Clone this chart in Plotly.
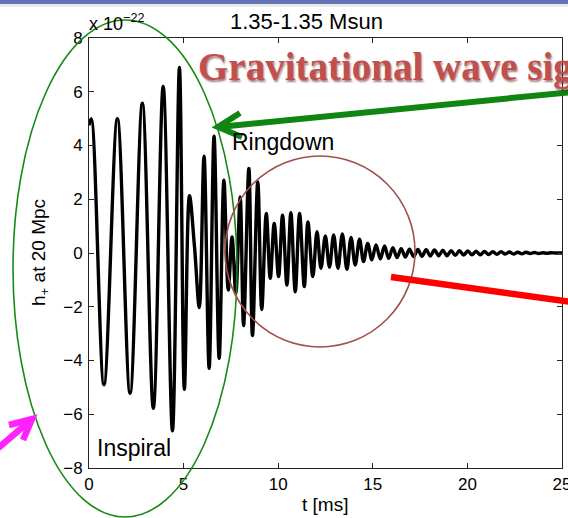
import plotly.graph_objects as go

# ---------------- data ----------------
t_ms = [0.00, 0.12, 0.79, 1.50, 2.17, 2.82, 3.40, 3.92, 4.41, 4.78, 5.04, 5.31, 5.58, 5.83,
        6.08, 6.35, 6.61, 6.88, 7.13, 7.36, 7.56, 7.76, 7.99, 8.17, 8.45, 8.64, 8.92, 9.13,
        9.37, 9.58, 9.79, 10.02, 10.23, 10.46, 10.67, 10.90, 11.13, 11.38, 11.57, 11.83,
        12.05, 12.26, 12.49, 12.71, 12.93, 13.16, 13.39, 13.63, 13.85, 14.07, 14.30, 14.51,
        14.73, 14.95, 15.17, 15.40, 15.62, 15.84, 16.06, 16.28, 16.50, 16.72, 16.94, 17.16,
        17.38, 17.60, 17.82, 18.04, 18.26, 18.48, 18.70, 18.92, 19.14, 19.36, 19.58, 19.80,
        20.02, 20.24, 20.46, 20.68, 20.90, 21.12, 21.34, 21.56, 21.78, 22.00, 22.22, 22.44,
        22.66, 22.88, 23.10, 23.32, 23.54, 23.76, 23.98, 24.20, 24.42, 24.64, 24.86, 25.00]

h_plus = [4.75, 5.00, -4.90, 5.00, -5.22, 5.57, -5.78, 6.20, -6.62, 6.90, -5.07, 2.13, 0.20, -2.03,
          3.60, -4.29, 4.35, -3.92, 2.71, -1.38, 0.60, -1.50, 2.09, -2.70, 3.15, -3.07, 2.65, -2.10,
          1.47, -0.94, 1.10, -0.88, 1.41, -1.19, 1.50, -1.44, 1.47, -1.25, 1.16, -0.88,
          0.79, -0.57, 0.63, -0.53, 0.67, -0.57, 0.71, -0.61, 0.58, -0.45, 0.51, -0.32,
          0.36, -0.25, 0.30, -0.22, 0.26, -0.20, 0.20, -0.17, 0.16, -0.15, 0.14, -0.13,
          0.13, -0.12, 0.12, -0.11, 0.11, -0.10, 0.10, -0.10, 0.09, -0.09, 0.09, -0.08,
          0.08, -0.07, 0.07, -0.07, 0.06, -0.06, 0.05, -0.05, 0.05, -0.04, 0.04, -0.04,
          0.03, -0.03, 0.03, -0.02, 0.02, -0.02, 0.01, -0.01, 0.01, 0.00, 0.00, 0.00]

x_ticks = [0, 5, 10, 15, 20, 25]
y_ticks = [-8, -6, -4, -2, 0, 2, 4, 6, 8]

title_text = "1.35-1.35 Msun"
x_label = "t [ms]"
y_label = "h<sub>+</sub> at 20 Mpc"
exp_label = "x 10<sup>\u221222</sup>"
banner_text = "Gravitational wave sig"
ringdown_text = "Ringdown"
inspiral_text = "Inspiral"

# ---------------- layout geometry (pixels) ----------------
W, H = 568, 518
L, R, T, B = 89, 562, 38, 468


def px(x):
    return (x - L) / (R - L)


def py(y):
    return (B - y) / (B - T)


FONT = "Liberation Sans, Arial, Helvetica, sans-serif"

fig = go.Figure()
fig.add_trace(go.Scatter(x=t_ms, y=h_plus, mode="lines",
                         line=dict(color="black", width=3.4, shape="spline", smoothing=1.0),
                         hoverinfo="skip", showlegend=False))

axis_common = dict(showline=True, linecolor="#262626", linewidth=1, mirror="ticks",
                   ticks="inside", ticklen=5, tickcolor="#262626", showgrid=False,
                   zeroline=False, ticklabeloverflow="allow", automargin=False,
                   tickfont=dict(family=FONT, size=17, color="black"))

fig.update_xaxes(range=[0, 25], tickvals=x_ticks, ticktext=[str(v) for v in x_ticks],
                 ticklabelstandoff=1, **axis_common)
fig.update_yaxes(range=[-8, 8], tickvals=y_ticks,
                 ticktext=[str(v).replace("-", "\u2212") for v in y_ticks],
                 ticklabelstandoff=2, **axis_common)

shapes = []
# slide top band
shapes.append(dict(type="rect", xref="paper", yref="paper", x0=px(0), x1=px(W), y0=py(4), y1=py(0),
                   fillcolor="#6474b4", line=dict(width=0), layer="above"))
shapes.append(dict(type="rect", xref="paper", yref="paper", x0=px(0), x1=px(W), y0=py(7), y1=py(4),
                   fillcolor="#e9e9ee", line=dict(width=0), layer="above"))
# green ellipse (inspiral)
shapes.append(dict(type="circle", xref="paper", yref="paper", x0=px(13), x1=px(237), y0=py(517), y1=py(20),
                   line=dict(color="#168a16", width=1.6), layer="above"))
# brown circle (ringdown)
shapes.append(dict(type="circle", xref="paper", yref="paper", x0=px(225), x1=px(415), y0=py(347), y1=py(156),
                   line=dict(color="#a0504d", width=1.6), layer="above"))
# green arrow
shapes.append(dict(type="line", xref="paper", yref="paper", x0=px(219), y0=py(127), x1=px(572), y1=py(92),
                   line=dict(color="#118511", width=6), layer="above"))
shapes.append(dict(type="path", xref="paper", yref="paper",
                   path=f"M {px(240)},{py(113)} L {px(218)},{py(127)} L {px(242)},{py(137)}",
                   line=dict(color="#118511", width=6), layer="above"))
# red line
shapes.append(dict(type="line", xref="paper", yref="paper", x0=px(391), y0=py(277), x1=px(572), y1=py(302),
                   line=dict(color="#ff0000", width=6.5), layer="above"))
# magenta arrow
shapes.append(dict(type="line", xref="paper", yref="paper", x0=px(-4), y0=py(450), x1=px(32), y1=py(419),
                   line=dict(color="#ff22ff", width=6.5), layer="above"))
shapes.append(dict(type="path", xref="paper", yref="paper",
                   path=f"M {px(9)},{py(425)} L {px(32)},{py(419)} L {px(23)},{py(440)}",
                   line=dict(color="#ff22ff", width=6.5), layer="above"))

annotations = [
    dict(text=title_text, x=px(306), y=py(21), xref="paper", yref="paper", showarrow=False,
         xanchor="center", yanchor="middle", font=dict(family=FONT, size=22, color="black")),
    dict(text=exp_label, x=px(87), y=py(36), xref="paper", yref="paper", showarrow=False,
         xanchor="left", yanchor="bottom", font=dict(family=FONT, size=18, color="black")),
    dict(text=banner_text, x=px(196), y=py(67), xref="paper", yref="paper", showarrow=False,
         xanchor="left", yanchor="middle",
         font=dict(family="Liberation Serif, Times New Roman, serif", size=39, color="#c0504d",
                   weight="bold", shadow="1px 2px 2px rgba(90,20,20,0.55)")),
    dict(text=ringdown_text, x=px(230), y=py(142), xref="paper", yref="paper", showarrow=False,
         xanchor="left", yanchor="middle", font=dict(family=FONT, size=23, color="black")),
    dict(text=inspiral_text, x=px(95), y=py(448), xref="paper", yref="paper", showarrow=False,
         xanchor="left", yanchor="middle", font=dict(family=FONT, size=23, color="black")),
    dict(text=x_label, x=px(325), y=py(504), xref="paper", yref="paper", showarrow=False,
         xanchor="center", yanchor="middle", font=dict(family=FONT, size=19, color="black")),
    dict(text=y_label, x=px(40), y=py(253), xref="paper", yref="paper", showarrow=False,
         xanchor="center", yanchor="middle", textangle=-90,
         font=dict(family=FONT, size=19, color="black")),
]

fig.update_layout(width=W, height=H, margin=dict(l=L, r=W - R, t=T, b=H - B, pad=0, autoexpand=False),
                  paper_bgcolor="white", plot_bgcolor="white",
                  shapes=shapes, annotations=annotations, showlegend=False)

fig.write_html("out.html", config={"displayModeBar": False},
               post_script="document.body.style.margin='0';document.body.style.padding='0';"
                           "document.body.style.overflow='hidden';")
